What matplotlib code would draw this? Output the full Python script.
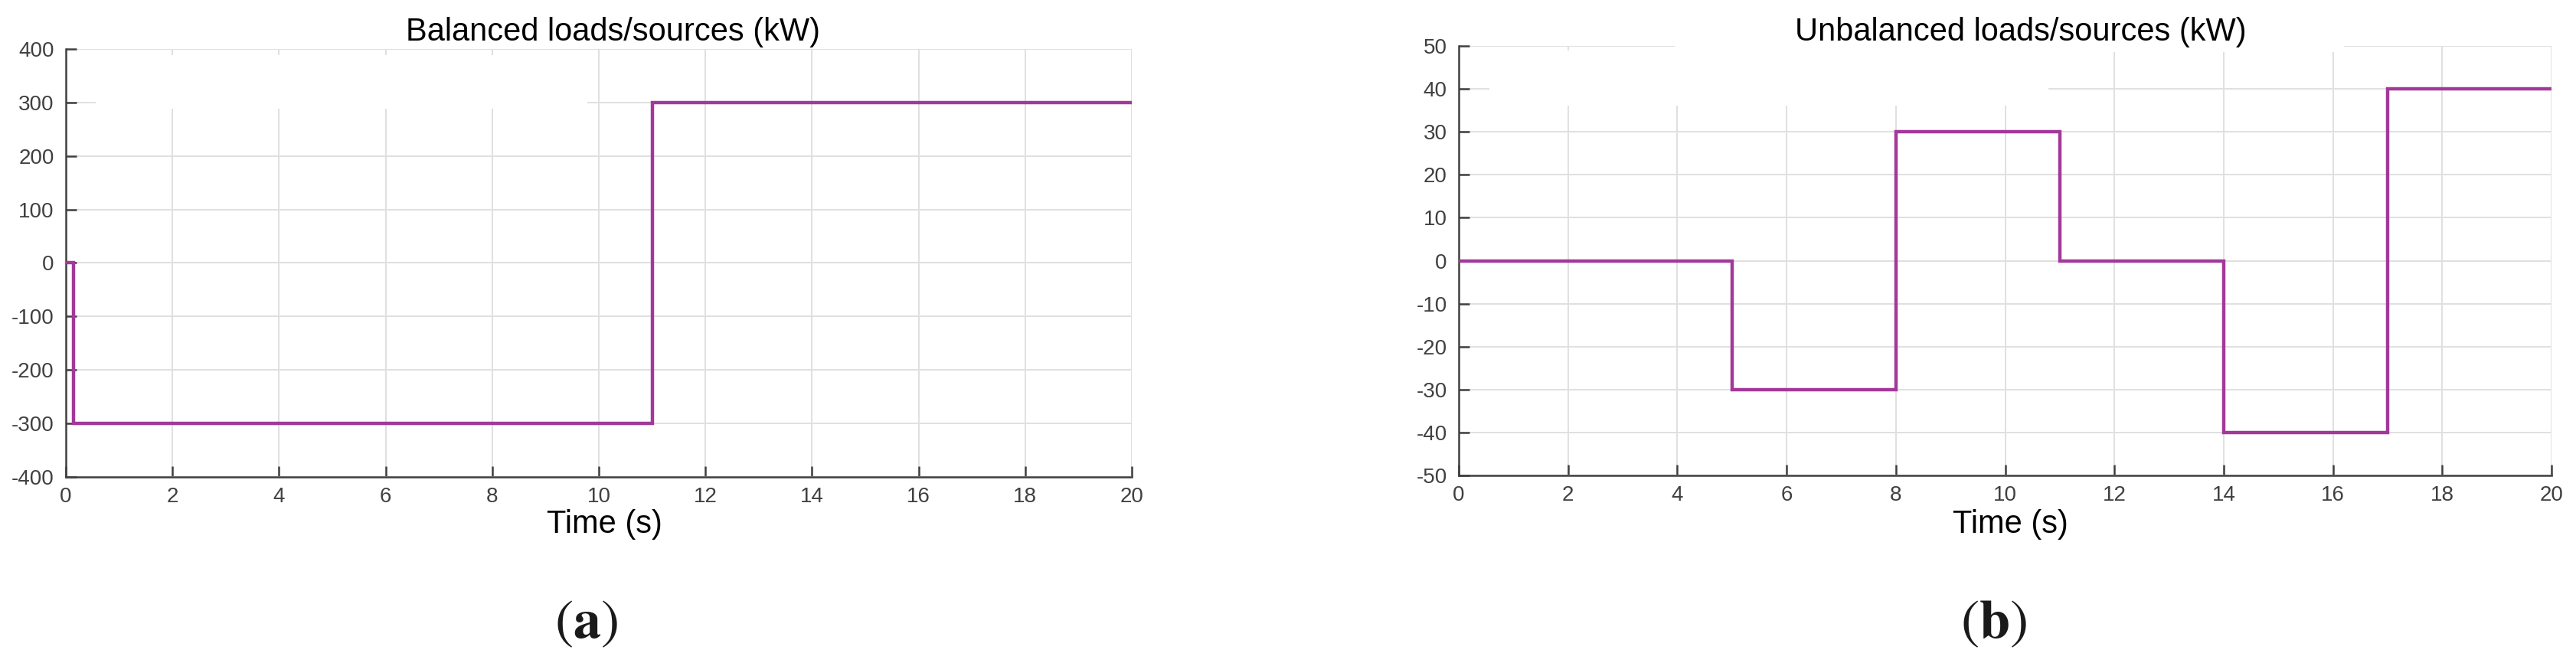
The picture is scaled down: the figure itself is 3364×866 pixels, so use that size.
import matplotlib
matplotlib.use("Agg")
import matplotlib.pyplot as plt
from matplotlib.patches import Rectangle

plt.rcParams['font.family'] = ['Liberation Sans', 'DejaVu Sans']
plt.rcParams['axes.unicode_minus'] = False
plt.rcParams['mathtext.fontset'] = 'stix'

# balanced case: step change of the loads/sources
t_bal = [0, 0.15, 11, 20]
p_bal = [0, -300, 300, 300]

# unbalanced case
t_unb = [0, 5, 8, 11, 14, 17, 20]
p_unb = [0, -30, 30, 0, -40, 40, 40]

x_ticks = list(range(0, 21, 2))
y_ticks_bal = list(range(-400, 401, 100))
y_ticks_unb = list(range(-50, 51, 10))

titles = ['Balanced loads/sources (kW)', 'Unbalanced loads/sources (kW)']
captions = [r'($\mathbf{a}$)', r'($\mathbf{b}$)']

LINE = '#a2399a'
AXC = '#404040'
GRID = '#e0e0e0'

fig = plt.figure(figsize=(33.64, 8.66), dpi=100)
ax1 = fig.add_axes([0.02556, 0.2806, 0.4138, 0.6455])
ax2 = fig.add_axes([0.5663, 0.2829, 0.4242, 0.6478])


def style_axes(ax, yticks):
    ax.set_axisbelow(True)
    ax.grid(True, color=GRID, linewidth=1.4)
    ax.set_xlim(0, 20)
    ax.set_ylim(yticks[0], yticks[-1])
    ax.set_xticks(x_ticks)
    ax.set_yticks(yticks)
    for side in ['top', 'right']:
        ax.spines[side].set_visible(False)
    for side in ['left', 'bottom']:
        ax.spines[side].set_color(AXC)
        ax.spines[side].set_linewidth(1.8)
    ax.tick_params(axis='both', direction='in', length=10, width=1.8,
                   color=AXC, labelcolor=AXC, labelsize=20)
    ax.tick_params(axis='x', pad=9)
    ax.tick_params(axis='y', pad=11)


style_axes(ax1, y_ticks_bal)
style_axes(ax2, y_ticks_unb)

ax1.plot(t_bal, p_bal, drawstyle='steps-post', color=LINE, linewidth=3.2,
         solid_joinstyle='miter', zorder=3)
ax2.plot(t_unb, p_unb, drawstyle='steps-post', color=LINE, linewidth=3.2,
         solid_joinstyle='miter', zorder=3)

# blank (empty legend) areas that hide the grid
ax1.add_patch(Rectangle((0.56, 289), 9.22, 100, facecolor='white',
                        edgecolor='none', zorder=1))
ax2.add_patch(Rectangle((0.56, 36.1), 10.23, 12.9, facecolor='white',
                        edgecolor='none', zorder=1))
ax2.add_patch(Rectangle((3.95, 48.5), 12.25, 2.2, facecolor='white',
                        edgecolor='none', zorder=1, clip_on=False))

ax1.text(0.513, 1.0197, titles[0], transform=ax1.transAxes, ha='center',
         va='baseline', fontsize=30, color='black', zorder=5)
ax2.text(0.514, 1.0125, titles[1], transform=ax2.transAxes, ha='center',
         va='baseline', fontsize=30, color='black', zorder=5)

for ax, yl in [(ax1, -0.111), (ax2, -0.114)]:
    ax.set_xlabel('Time (s)', fontsize=30, color='black')
    ax.xaxis.set_label_coords(0.505, yl)
    ax.xaxis.label.set_va('center')

fig.text(0.2274, 0.0566, captions[0], ha='center', va='center',
         fontsize=52, family='STIXGeneral', color='#1a1a1a')
fig.text(0.774, 0.0566, captions[1], ha='center', va='center',
         fontsize=52, family='STIXGeneral', color='#1a1a1a')

fig.savefig('out.png', dpi=100)
